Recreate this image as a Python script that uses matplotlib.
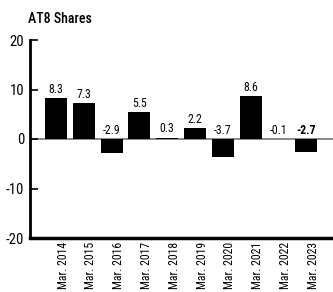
import matplotlib
matplotlib.use("Agg")
import matplotlib.pyplot as plt
import matplotlib.transforms as mtransforms

years = ["Mar. 2014", "Mar. 2015", "Mar. 2016", "Mar. 2017", "Mar. 2018",
         "Mar. 2019", "Mar. 2020", "Mar. 2021", "Mar. 2022", "Mar. 2023"]
shares = [8.3, 7.3, -2.9, 5.5, 0.3, 2.2, -3.7, 8.6, -0.1, -2.7]
yticks = [-20, -10, 0, 10, 20]

plt.rcParams["font.family"] = ["Roboto Condensed", "Archivo Narrow",
                               "PT Sans Narrow", "DejaVu Sans"]

fig = plt.figure(figsize=(3.33, 2.92), dpi=100)
ax = fig.add_axes([30 / 333, (292 - 238) / 292, 303 / 333, 198 / 292])

x = list(range(len(years)))
ax.bar(x, shares, width=0.79, color="black", zorder=2)
ax.axhline(0, color="#7f7f7f", lw=1.3, zorder=1)

for i, v in enumerate(shares):
    ypos = max(v, 0) + 0.45
    weight = "bold" if i == len(shares) - 1 else "normal"
    ax.text(i, ypos, f"{v:.1f}", ha="center", va="bottom", fontsize=8.5,
            fontweight=weight)

ax.set_xlim(-0.935, 9.96)
ax.set_ylim(-20, 20)
ax.set_yticks(yticks)
ax.set_yticklabels([str(t) for t in yticks], fontsize=10.5)
ax.tick_params(axis="y", direction="in", length=6, width=1.2, pad=4)
ax.set_xticks(x)
ax.set_xticklabels(years, rotation=90, fontsize=8.5, va="top")
ax.tick_params(axis="x", length=0, pad=3)
shift = mtransforms.ScaledTranslation(7 / 100, 0, fig.dpi_scale_trans)
for lab in ax.get_xticklabels():
    lab.set_transform(lab.get_transform() + shift)

for s in ["top", "right"]:
    ax.spines[s].set_visible(False)
ax.spines["left"].set_linewidth(2)
ax.spines["bottom"].set_linewidth(2.5)

fig.text(28 / 333, 1 - 19 / 292, "AT8 Shares", fontsize=10, va="center",
         ha="left", fontweight="medium")

fig.savefig("out.png", dpi=100)
